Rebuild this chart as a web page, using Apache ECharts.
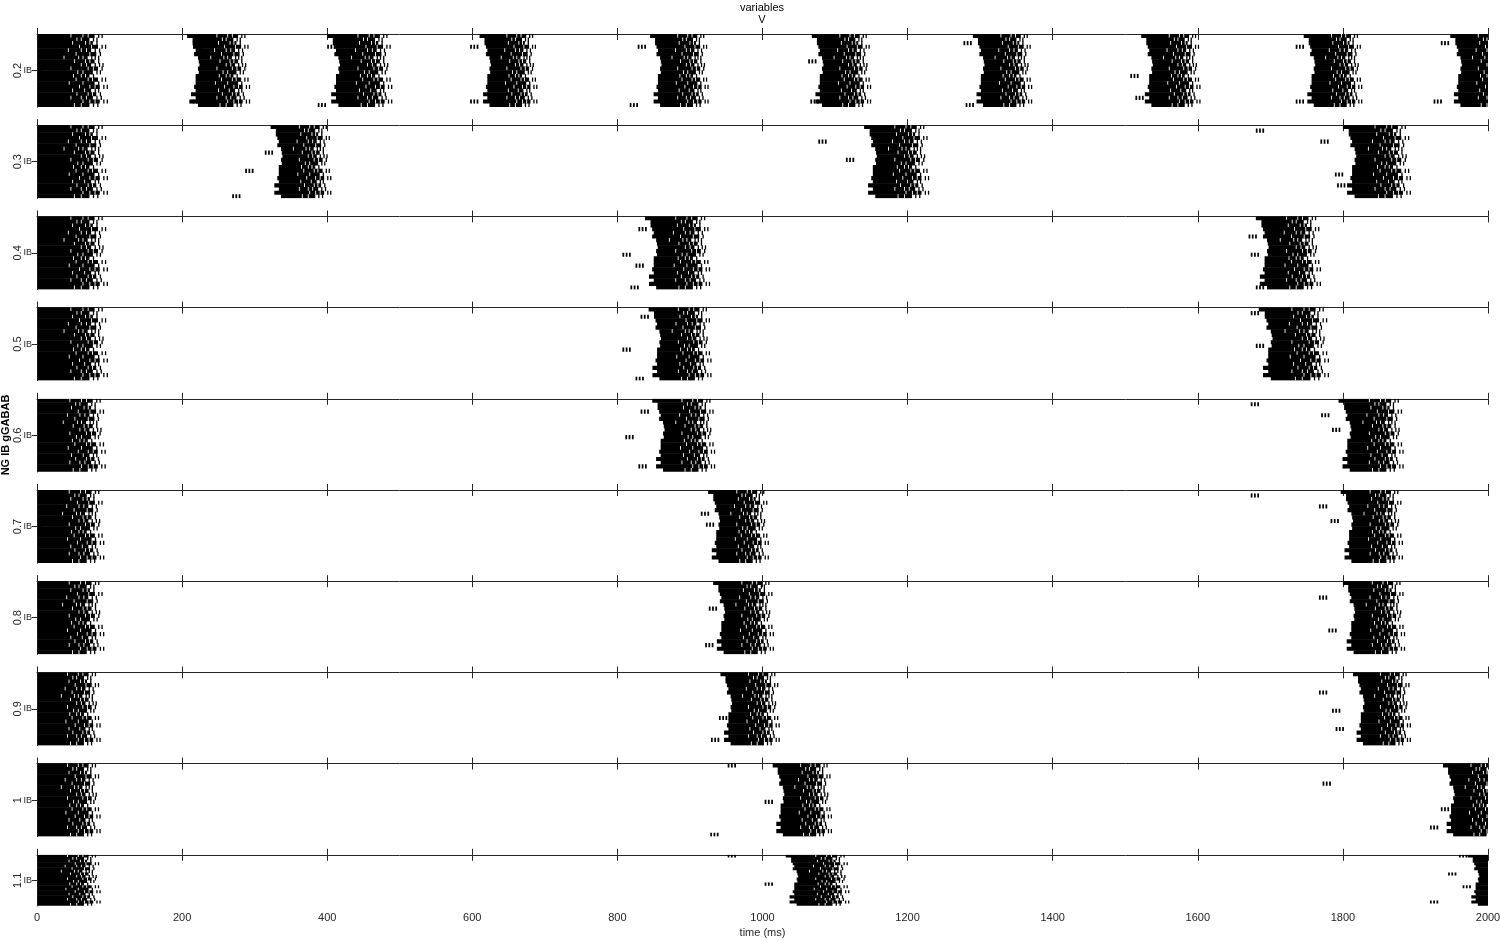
<!DOCTYPE html>
<html>
<head>
<meta charset="utf-8">
<script src="https://cdn.jsdelivr.net/npm/echarts@6/dist/echarts.min.js"></script>
<style>
html,body{margin:0;padding:0;background:#fff;}
#chart{width:1500px;height:938px;}
</style>
</head>
<body>
<div id="chart"></div>
<script>
// ---------- data ----------
const gGABAB = ['0.2','0.3','0.4','0.5','0.6','0.7','0.8','0.9','1','1.1'];
const populationLabel = 'IB';
const timeMin = 0, timeMax = 2000, timeStep = 200;
const nCells = 20;

// bursts per panel: [onset ms, width ms, edge raggedness (0 = flat)]
const bursts_02 = [[1,95,0],[207,85,1],[400,88,1],[610,78,1],[845,79,1],[1068,80,1],[1290,80,1],[1522,80,1],[1746,79,1],[1948,80,1]];
const bursts_03 = [[1,95,0],[322,82,1],[1140,88,1],[1800,92,1]];
const bursts_04 = [[1,95,0],[838,88,1],[1680,88,1]];
const bursts_05 = [[1,95,0],[843,85,1],[1684,95,1]];
const bursts_06 = [[1,92,0],[848,85,1],[1794,88,1]];
const bursts_07 = [[1,90,0],[925,82,1],[1797,84,1]];
const bursts_08 = [[1,90,0],[932,82,1],[1800,84,1]];
const bursts_09 = [[1,85,0],[942,80,1],[1814,78,1]];
const bursts_10 = [[1,85,0],[1014,80,1],[1938,80,1]];
const bursts_11 = [[1,85,0],[1032,86,1],[1972,80,1]];

// isolated early spike clusters per panel: [cell row, time ms]
const early_02 = [[3,215],[18,210],[19,387],[3,400],[3,597],[18,597],[3,828],[19,817],[7,1063],[18,1066],[2,1277],[19,1280],[11,1507],[17,1514],[3,1735],[18,1735],[2,1935],[18,1925]];
const early_03 = [[19,269],[12,287],[7,314],[4,1077],[9,1115],[1,1680],[4,1769],[13,1789],[16,1792]];
const early_04 = [[3,829],[10,807],[13,825],[19,818],[5,1670],[10,1673],[19,1680]];
const early_05 = [[2,832],[11,807],[19,825],[1,1673],[10,1680]];
const early_06 = [[10,811],[18,829],[3,832],[1,1673],[4,1770],[8,1785]];
const early_07 = [[6,915],[9,922],[1,1673],[4,1767],[8,1783]];
const early_08 = [[7,926],[17,921],[4,1767],[13,1780]];
const early_09 = [[18,929],[12,940],[5,1767],[10,1785],[15,1790]];
const early_10 = [[0,952],[19,928],[10,1003],[5,1772],[17,1920],[12,1935]];
const early_11 = [[0,952],[11,1003],[0,1960],[7,1945],[18,1920],[12,1965]];

// per-cell burst shape read from a typical burst (ms, for an 80 ms burst)
const cellLead = [0,7,7,9,11,9,14,15,16,14,15,11,11,11,9,11,5,11,5,14];
const cellEnd  = [66,60,64,70,62,68,58,66,62,70,64,60,70,66,72,62,68,64,72,60];
const cellGaps = [[38,52,58],[45,50],[40,55,60],[48,62],[35,50,56],[44,60],[30,47,52],[42,55,60],[50,56],[38,58,64],
                  [46,52],[41,50,55],[44,58,63],[36,52],[48,60,66],[40,54],[45,58,63],[38,50,56],[52,60,66],[42,50]];
const cellExtra = [[70,74],[64,68],[68],[74,78],[66,71],[72],[62,66,70],[70],[66,71,75],[74],
                   [68,72],[64],[74,78],[70],[76,80],[66,70],[72],[68,73],[76,80],[64,69]];
const clusterOffsets = [0,4.5,9];

const panelBursts = [bursts_02,bursts_03,bursts_04,bursts_05,bursts_06,bursts_07,bursts_08,bursts_09,bursts_10,bursts_11];
const panelEarly  = [early_02,early_03,early_04,early_05,early_06,early_07,early_08,early_09,early_10,early_11];

// ---------- build segments ----------
function buildSegments(bursts, early){
  const segs = [];
  bursts.forEach(([on,W,j])=>{
    const s = W/80;
    for(let r=0;r<nCells;r++){
      const a = on + cellLead[r]*s*j;
      const e = on + cellEnd[r]*s;
      segs.push([a,e,r,0]);
      cellGaps[r].forEach(g=>{ const gt=on+g*s; if(gt>a+3 && gt<e-1) segs.push([gt,gt+1,r,1]); });
      cellExtra[r].forEach(o=>{ const t=on+o*s; segs.push([t,t+1.6,r,0]); });
    }
  });
  early.forEach(([r,t])=>clusterOffsets.forEach(o=>segs.push([t+o,t+o+2.4,r,0])));
  return segs;
}

// ---------- layout ----------
const txt = '#262626';
const font = 'Liberation Sans, Arial, sans-serif';
const grids=[], xAxes=[], yAxes=[], series=[];
const n = gGABAB.length;
for(let i=0;i<n;i++){
  const top = 34 + i*91.2;
  const h = i<n-1 ? 73 : 51;
  grids.push({left:37, right:12, top:top, height:h, containLabel:false, outerBoundsMode:'none'});
  const last = i===n-1;
  xAxes.push({gridIndex:i, type:'value', min:timeMin, max:timeMax, interval:timeStep, position:'bottom',
    axisLine:{show:false}, axisTick:{show:true, inside:true, length:6, lineStyle:{color:txt}},
    axisLabel:{show:last, color:txt, fontSize:11, fontFamily:font, margin:7, formatter:v=>String(v)},
    splitLine:{show:false},
    name: last ? 'time (ms)' : '', nameLocation:'middle', nameGap:22, nameMoveOverlap:false,
    nameTextStyle:{color:txt, fontSize:11, fontFamily:font}});
  xAxes.push({gridIndex:i, type:'value', min:timeMin, max:timeMax, interval:timeStep, position:'top',
    axisLine:{show:true, lineStyle:{color:txt, width:1}}, axisTick:{show:true, inside:true, length:6, lineStyle:{color:txt}},
    axisLabel:{show:false}, splitLine:{show:false}});
  yAxes.push({gridIndex:i, type:'value', min:0, max:nCells, inverse:true, position:'left',
    axisLine:{show:true, lineStyle:{color:txt, width:1}},
    axisTick:{show:true, inside:true, length:5, customValues:[nCells/2], lineStyle:{color:txt}},
    axisLabel:{show:true, customValues:[nCells/2], formatter:()=>populationLabel, color:txt, fontSize:9, fontFamily:font, margin:5},
    splitLine:{show:false},
    name:gGABAB[i], nameLocation:'middle', nameRotate:90, nameGap:14, nameMoveOverlap:false,
    nameTextStyle:{color:txt, fontSize:11, fontFamily:font}});
  yAxes.push({gridIndex:i, type:'value', min:0, max:nCells, inverse:true, position:'right',
    axisLine:{show:true, lineStyle:{color:txt, width:1}},
    axisTick:{show:true, inside:true, length:5, customValues:[nCells/2], lineStyle:{color:txt}},
    axisLabel:{show:false}, splitLine:{show:false}});
  series.push({type:'custom', xAxisIndex:2*i, yAxisIndex:2*i, clip:true, silent:true,
    encode:{x:[0,1], y:2},
    data: buildSegments(panelBursts[i], panelEarly[i]),
    renderItem:(params, api)=>{
      const t0=api.value(0), t1=api.value(1), r=api.value(2), white=api.value(3);
      const p0=api.coord([t0,r]), p1=api.coord([t1,r+1]);
      const w=Math.max(p1[0]-p0[0], white?0.9:1.3);
      const y0=Math.min(p0[1],p1[1]), hh=Math.abs(p1[1]-p0[1]);
      return {type:'rect', shape:{x:p0[0], y:y0-0.25, width:w, height:hh+0.5},
        style:{fill: white?'#ffffff':'#000000'}};
    }});
}

const chart = echarts.init(document.getElementById('chart'), null, {renderer:'canvas'});
chart.setOption({
  animation:false,
  backgroundColor:'#ffffff',
  grid:grids, xAxis:xAxes, yAxis:yAxes, series:series,
  graphic:[
    {type:'text', x:762, y:2, style:{text:'variables', fontSize:11, fontFamily:font, fill:'#000', textAlign:'center'}},
    {type:'text', x:762, y:14, style:{text:'V', fontSize:11, fontFamily:font, fill:'#000', textAlign:'center'}},
    {type:'text', x:0, y:435, rotation:Math.PI/2, style:{text:'NG IB gGABAB', fontSize:11, fontWeight:'bold', fontFamily:font, fill:'#000', textAlign:'center', textVerticalAlign:'top'}}
  ]
});
</script>
</body>
</html>
